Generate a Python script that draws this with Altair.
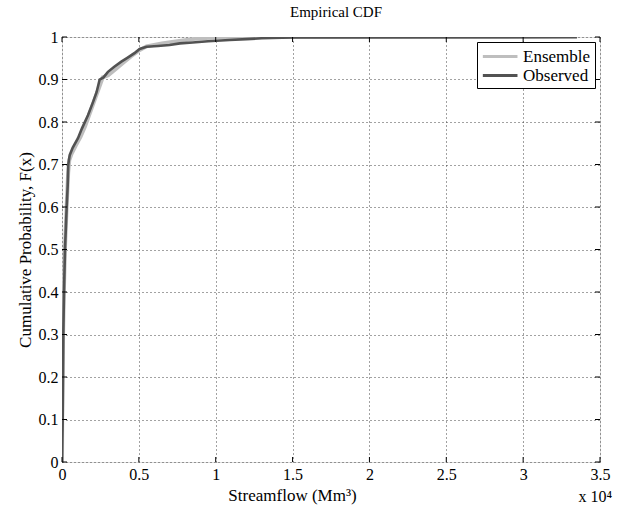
import altair as alt
import pandas as pd

# Empirical CDF of streamflow (Mm^3) for the observed record and the ensemble
obs_flow = [0, 20, 45, 65, 85, 130, 195, 305, 370, 410, 500, 700, 1040, 1300, 1690,
            2000, 2250, 2450, 2700, 2990, 3400, 3860, 4300, 4720, 5050, 5500, 6240,
            7000, 7670, 8500, 9500, 10900, 12000, 13000, 15000, 33500]
obs_prob = [0.0, 0.05, 0.1, 0.2, 0.3, 0.4, 0.5, 0.6, 0.65, 0.7, 0.722, 0.74, 0.762,
            0.785, 0.816, 0.845, 0.87, 0.9, 0.905, 0.918, 0.93, 0.942, 0.952, 0.962,
            0.972, 0.977, 0.979, 0.981, 0.985, 0.987, 0.99, 0.993, 0.995, 0.997, 0.999, 1.0]

ens_flow = [0, 10, 40, 70, 120, 190, 300, 400, 470, 620, 900, 1200, 1500, 1800, 2100,
            2400, 2650, 3000, 3500, 4000, 4500, 5000, 5500, 6500, 7500, 8500, 9800,
            11000, 33500]
ens_prob = [0.0, 0.1, 0.2, 0.3, 0.4, 0.5, 0.6, 0.68, 0.71, 0.725, 0.745, 0.765, 0.79,
            0.82, 0.85, 0.88, 0.905, 0.91, 0.925, 0.94, 0.955, 0.968, 0.978, 0.985,
            0.99, 0.995, 0.999, 1.0, 1.0]

x_ticks = [0, 5000, 10000, 15000, 20000, 25000, 30000, 35000]
y_ticks = [0, 0.1, 0.2, 0.3, 0.4, 0.5, 0.6, 0.7, 0.8, 0.9, 1.0]

series_names = ["Ensemble", "Observed"]
series_colors = ["#bebebe", "#525252"]

FONT = "Liberation Serif"
W, H = 538, 425

df = pd.concat([
    pd.DataFrame({"flow": ens_flow, "prob": ens_prob, "series": "Ensemble",
                  "idx": range(len(ens_flow))}),
    pd.DataFrame({"flow": obs_flow, "prob": obs_prob, "series": "Observed",
                  "idx": range(len(obs_flow))}),
])

x_scale = alt.Scale(domain=[0, 35000], nice=False, zero=False)
y_scale = alt.Scale(domain=[0, 1], nice=False)
color_scale = alt.Scale(domain=series_names, range=series_colors)

grid_style = dict(grid=True, gridDash=[1, 3], gridColor="#444444", gridOpacity=1,
                  ticks=False, domain=False, labelFlush=False)
label_style = dict(labelFont=FONT, labelFontSize=16, labelColor="black", labelPadding=4)
title_style = dict(titleFont=FONT, titleFontSize=17, titleFontWeight="normal",
                   titleColor="black")

x_axis = alt.Axis(
    values=x_ticks, labelExpr="'' + datum.value / 10000", title="Streamflow (Mm³)",
    titlePadding=5, titleX=230, titleAnchor="start", titleAlign="center",
    **grid_style, **label_style, **title_style,
)
y_axis = alt.Axis(
    values=y_ticks, labelExpr="'' + datum.value", title="Cumulative Probability, F(x)",
    titlePadding=4, **grid_style, **label_style, **title_style,
)

# Wide stroke path so the legend line is long while the row stays compact
legend = alt.Legend(
    title=None, orient="top-right", offset=5,
    fillColor="white", strokeColor="black", padding=4,
    symbolType="M-1,0H3", symbolSize=300, symbolStrokeWidth=3,
    labelFont=FONT, labelFontSize=17, labelColor="black", labelOffset=21,
    rowPadding=0,
)

base = alt.Chart(df)

ens_line = base.transform_filter(alt.datum.series == "Ensemble").mark_line(
    strokeWidth=4, clip=True
).encode(
    x=alt.X("flow:Q", scale=x_scale, axis=x_axis),
    y=alt.Y("prob:Q", scale=y_scale, axis=y_axis),
    color=alt.Color("series:N", scale=color_scale, legend=legend),
    order="idx:Q",
)

obs_line = base.transform_filter(alt.datum.series == "Observed").mark_line(
    strokeWidth=2.6, clip=True
).encode(
    x=alt.X("flow:Q", scale=x_scale),
    y=alt.Y("prob:Q", scale=y_scale),
    color=alt.Color("series:N", scale=color_scale, legend=legend),
    order="idx:Q",
)

# Inward tick marks on all four sides of the box
xt = alt.Chart(pd.DataFrame({"t": x_ticks}))
yt = alt.Chart(pd.DataFrame({"t": y_ticks}))
tick_len = 5
ticks_bottom = xt.mark_rule(color="black").encode(
    x=alt.X("t:Q", scale=x_scale), y=alt.value(H), y2=alt.value(H - tick_len))
ticks_top = xt.mark_rule(color="black").encode(
    x=alt.X("t:Q", scale=x_scale), y=alt.value(0), y2=alt.value(tick_len))
ticks_left = yt.mark_rule(color="black").encode(
    y=alt.Y("t:Q", scale=y_scale), x=alt.value(0), x2=alt.value(tick_len))
ticks_right = yt.mark_rule(color="black").encode(
    y=alt.Y("t:Q", scale=y_scale), x=alt.value(W), x2=alt.value(W - tick_len))

# Axis multiplier shown below the right end of the x axis
multiplier = alt.Chart(pd.DataFrame({"t": [x_ticks[-1]]})).mark_text(
    text="x 10⁴", font=FONT, fontSize=16, color="black", align="right",
    baseline="middle", dx=12,
).encode(x=alt.X("t:Q", scale=x_scale), y=alt.value(H + 35))

chart = alt.layer(
    ens_line, obs_line, ticks_bottom, ticks_top, ticks_left, ticks_right, multiplier
).properties(
    width=W, height=H,
    title=alt.TitleParams("Empirical CDF", font=FONT, fontSize=15, fontWeight="normal",
                          color="black", offset=9, dx=5),
    autosize=alt.AutoSizeParams(type="none"),
    padding={"left": 62, "top": 37, "right": 20, "bottom": 49},
).configure_view(
    stroke="black", strokeWidth=1
).configure(background="white")

chart.save("out.html", embed_options={"renderer": "svg", "actions": False})
